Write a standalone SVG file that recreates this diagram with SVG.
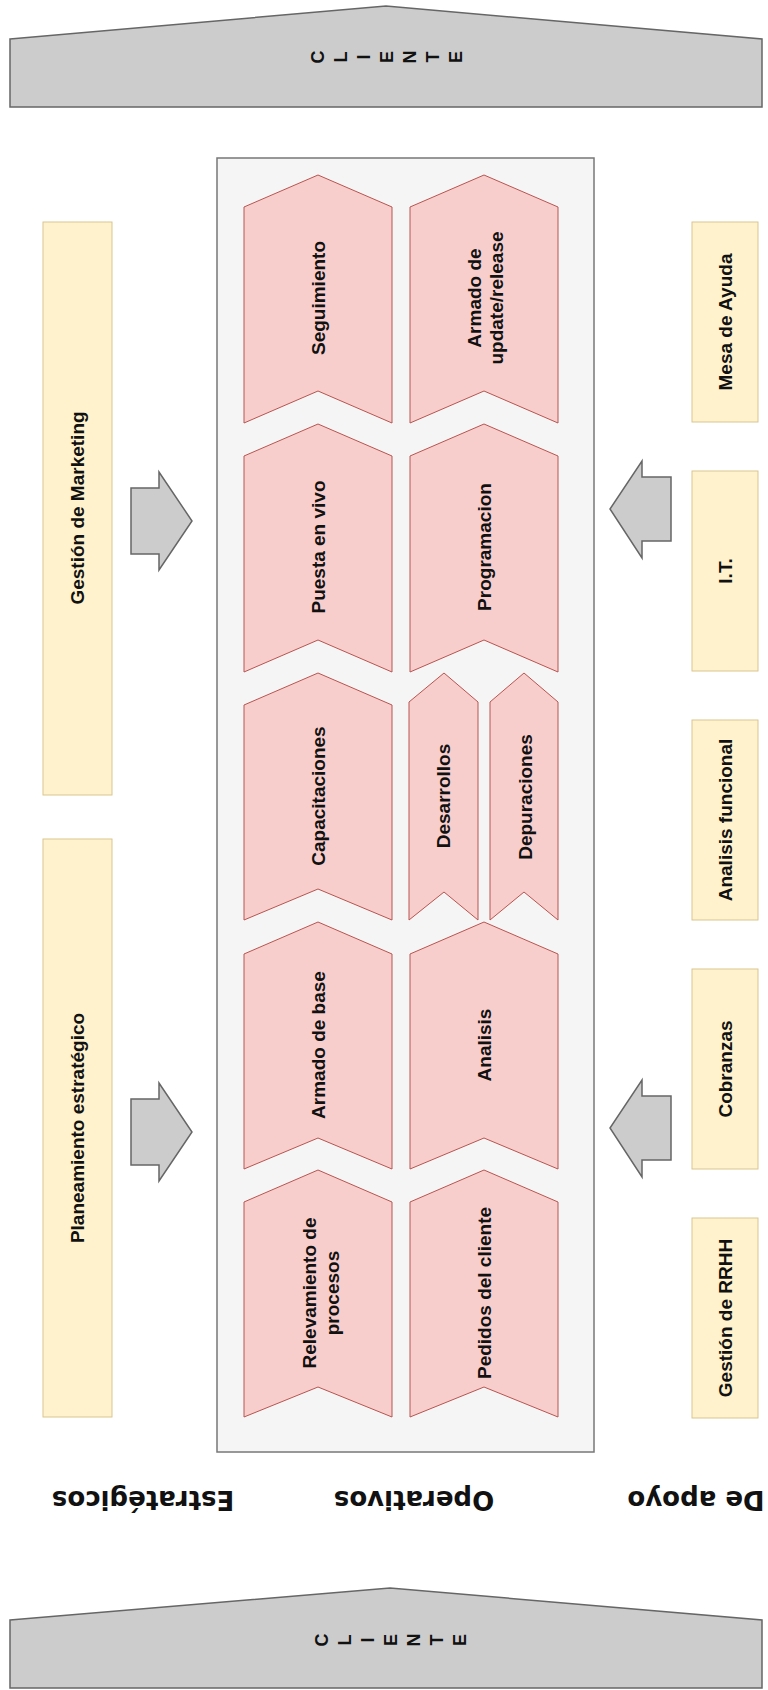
<svg xmlns="http://www.w3.org/2000/svg" width="768" height="1690" viewBox="0 0 768 1690">
<style>
.client{fill:#cccccc;stroke:#666666;stroke-width:1.5}
.lane{fill:#f5f5f5;stroke:#777777;stroke-width:1.5}
.step{fill:#f8cecc;stroke:#b85450;stroke-width:1}
.box{fill:#fff2cc;stroke:#d9c68f;stroke-width:1}
.flow{fill:#cccccc;stroke:#666666;stroke-width:1.5}
.lbl{font-family:"Liberation Sans",Arial,sans-serif;font-weight:bold;font-size:19px;fill:#111111;text-anchor:middle;dominant-baseline:central}
.ltr{font-family:"Liberation Sans",Arial,sans-serif;font-weight:bold;font-size:18px;fill:#111111;text-anchor:middle;dominant-baseline:central}
.cat{font-family:"DejaVu Sans",sans-serif;font-weight:bold;font-size:26px;fill:#111111;text-anchor:middle;dominant-baseline:central}
</style>

<!-- customer bands, top and bottom -->
<g id="cliente-top">
  <polygon class="client" points="10,39 386,6 762,39 762,107 10,107"/>
  <g class="ltr">
    <text transform="translate(318,57) rotate(-90)">C</text>
    <text transform="translate(341,57) rotate(-90)">L</text>
    <text transform="translate(364,57) rotate(-90)">I</text>
    <text transform="translate(387,57) rotate(-90)">E</text>
    <text transform="translate(410,57) rotate(-90)">N</text>
    <text transform="translate(433,57) rotate(-90)">T</text>
    <text transform="translate(456,57) rotate(-90)">E</text>
  </g>
</g>
<g id="cliente-bottom">
  <polygon class="client" points="10,1620 390,1588 762,1620 762,1688 10,1688"/>
  <g class="ltr">
    <text transform="translate(322,1640) rotate(-90)">C</text>
    <text transform="translate(345,1640) rotate(-90)">L</text>
    <text transform="translate(368,1640) rotate(-90)">I</text>
    <text transform="translate(391,1640) rotate(-90)">E</text>
    <text transform="translate(414,1640) rotate(-90)">N</text>
    <text transform="translate(437,1640) rotate(-90)">T</text>
    <text transform="translate(460,1640) rotate(-90)">E</text>
  </g>
</g>

<!-- operational lane -->
<g id="operativos-lane">
  <rect class="lane" x="217" y="158" width="377" height="1294"/>
</g>

<!-- column 1 steps -->
<g id="seguimiento">
  <path class="step" d="M244,207 L318,175 L392,207 L392,423 L318,391 L244,423 Z"/>
  <text class="lbl" transform="translate(318,298) rotate(-90)">Seguimiento</text>
</g>
<g id="puesta-en-vivo">
  <path class="step" d="M244,456 L318,424 L392,456 L392,672 L318,640 L244,672 Z"/>
  <text class="lbl" transform="translate(318,547) rotate(-90)">Puesta en vivo</text>
</g>
<g id="capacitaciones">
  <path class="step" d="M244,705 L318,673 L392,705 L392,920 L318,889 L244,920 Z"/>
  <text class="lbl" transform="translate(318,796) rotate(-90)">Capacitaciones</text>
</g>
<g id="armado-de-base">
  <path class="step" d="M244,954 L318,922 L392,954 L392,1169 L318,1138 L244,1169 Z"/>
  <text class="lbl" transform="translate(318,1045) rotate(-90)">Armado de base</text>
</g>
<g id="relevamiento">
  <path class="step" d="M244,1202 L318,1170 L392,1202 L392,1417 L318,1387 L244,1417 Z"/>
  <text class="lbl" transform="translate(320,1293) rotate(-90)"><tspan x="0" y="-11">Relevamiento de</tspan><tspan x="0" y="12">procesos</tspan></text>
</g>

<!-- column 2 steps -->
<g id="armado-update">
  <path class="step" d="M410,207 L484,175 L558,207 L558,423 L484,391 L410,423 Z"/>
  <text class="lbl" transform="translate(485,298) rotate(-90)"><tspan x="0" y="-11">Armado de</tspan><tspan x="0" y="11">update/release</tspan></text>
</g>
<g id="programacion">
  <path class="step" d="M410,456 L484,424 L558,456 L558,672 L484,640 L410,672 Z"/>
  <text class="lbl" transform="translate(484,547) rotate(-90)">Programacion</text>
</g>
<g id="desarrollos">
  <path class="step" d="M409,702 L444,673 L478,702 L478,920 L444,892 L409,920 Z"/>
  <text class="lbl" transform="translate(443,796) rotate(-90)">Desarrollos</text>
</g>
<g id="depuraciones">
  <path class="step" d="M490,702 L524,673 L558,702 L558,920 L524,892 L490,920 Z"/>
  <text class="lbl" transform="translate(525,797) rotate(-90)">Depuraciones</text>
</g>
<g id="analisis">
  <path class="step" d="M410,954 L484,922 L558,954 L558,1169 L484,1138 L410,1169 Z"/>
  <text class="lbl" transform="translate(484,1045) rotate(-90)">Analisis</text>
</g>
<g id="pedidos">
  <path class="step" d="M410,1202 L484,1170 L558,1202 L558,1417 L484,1387 L410,1417 Z"/>
  <text class="lbl" transform="translate(484,1293) rotate(-90)">Pedidos del cliente</text>
</g>

<!-- strategic processes -->
<g id="gestion-marketing">
  <rect class="box" x="43" y="222" width="69" height="573"/>
  <text class="lbl" transform="translate(77.5,508) rotate(-90)">Gestión de Marketing</text>
</g>
<g id="planeamiento">
  <rect class="box" x="43" y="839" width="69" height="578"/>
  <text class="lbl" transform="translate(77.5,1128) rotate(-90)">Planeamiento estratégico</text>
</g>

<!-- support processes -->
<g id="mesa-de-ayuda">
  <rect class="box" x="692" y="222" width="66" height="200"/>
  <text class="lbl" transform="translate(725,322) rotate(-90)">Mesa de Ayuda</text>
</g>
<g id="it">
  <rect class="box" x="692" y="471" width="66" height="200"/>
  <text class="lbl" transform="translate(725,571) rotate(-90)">I.T.</text>
</g>
<g id="analisis-funcional">
  <rect class="box" x="692" y="720" width="66" height="200"/>
  <text class="lbl" transform="translate(725,820) rotate(-90)">Analisis funcional</text>
</g>
<g id="cobranzas">
  <rect class="box" x="692" y="969" width="66" height="200"/>
  <text class="lbl" transform="translate(725,1069) rotate(-90)">Cobranzas</text>
</g>
<g id="gestion-rrhh">
  <rect class="box" x="692" y="1218" width="66" height="200"/>
  <text class="lbl" transform="translate(725,1318) rotate(-90)">Gestión de RRHH</text>
</g>

<!-- block arrows feeding the operational lane -->
<g id="connectors">
  <polygon class="flow" points="131,488 159,488 159,472 192,521 159,570 159,554 131,554"/>
  <polygon class="flow" points="131,1099 159,1099 159,1083 192,1132 159,1181 159,1165 131,1165"/>
  <polygon class="flow" points="671,477 642,477 642,461 610,509 642,558 642,541 671,541"/>
  <polygon class="flow" points="671,1096 642,1096 642,1080 610,1128 642,1177 642,1160 671,1160"/>
</g>

<!-- lane titles -->
<g id="titulos">
  <text class="cat" transform="translate(143,1500) rotate(180)">Estratégicos</text>
  <text class="cat" transform="translate(414,1500) rotate(180)">Operativos</text>
  <text class="cat" transform="translate(696,1500) rotate(180)">De apoyo</text>
</g>
</svg>
